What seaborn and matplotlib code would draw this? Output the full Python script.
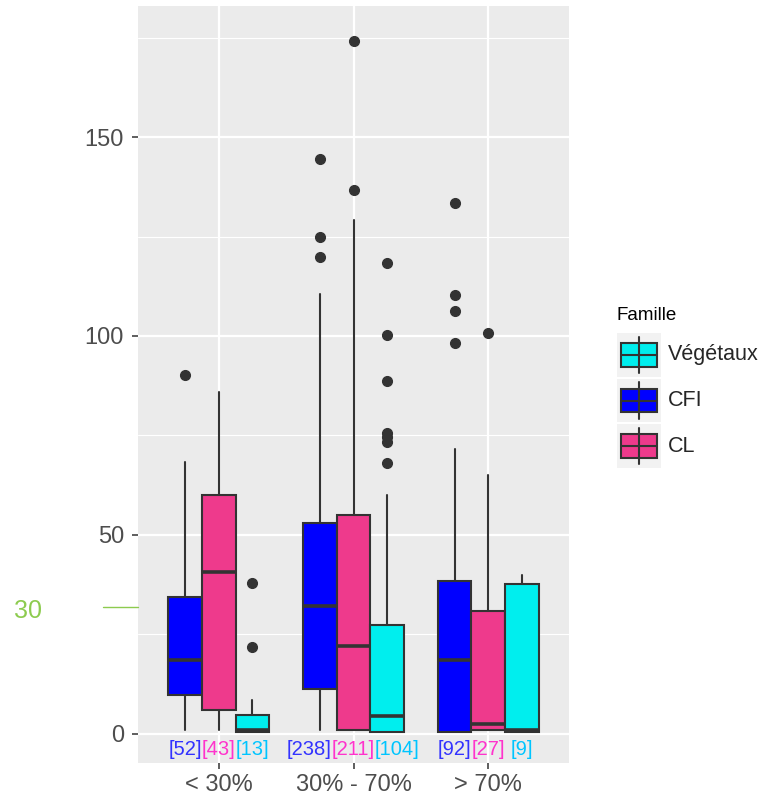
import numpy as np
import seaborn as sns
import matplotlib.pyplot as plt
from matplotlib.patches import Rectangle
from matplotlib.lines import Line2D

# ──────────────── данные ────────────────
groups = ["< 30%", "30% - 70%", "> 70%"]
familles = ["CFI", "CL", "Végétaux"]
legend_order = ["Végétaux", "CFI", "CL"]

cfi_low = [1.0, 1.0, 0.5]
cfi_q1 = [9.6, 11.1, 0.5]
cfi_med = [18.4, 32.0, 18.4]
cfi_q3 = [34.3, 52.9, 38.4]
cfi_high = [68.2, 110.5, 71.7]
cfi_out = [[90.1], [144.5, 124.9, 119.8], [133.4, 110.3, 106.2, 98.2]]
cfi_n = [52, 238, 92]

cl_low = [1.0, 1.0, 1.0]
cl_q1 = [6.0, 1.0, 1.0]
cl_med = [40.6, 22.0, 2.4]
cl_q3 = [60.0, 55.0, 30.8]
cl_high = [85.8, 129.1, 65.1]
cl_out = [[], [174.1, 136.8], [100.7]]
cl_n = [43, 211, 27]

veg_low = [0.3, 0.5, 0.5]
veg_q1 = [0.3, 0.5, 0.5]
veg_med = [1.0, 4.4, 1.0]
veg_q3 = [4.6, 27.2, 37.7]
veg_high = [8.4, 60.0, 40.0]
veg_out = [[37.9, 21.8], [118.3, 100.3, 88.6, 75.5, 74.5, 73.3, 68.0], []]
veg_n = [13, 104, 9]

fill = {"CFI": "#0000FF", "CL": "#EE3A8C", "Végétaux": "#00EEEE"}
lab_col = {"CFI": "#3333FF", "CL": "#FF33CC", "Végétaux": "#00C5FF"}

stats_src = {
    "CFI": (cfi_low, cfi_q1, cfi_med, cfi_q3, cfi_high, cfi_out, cfi_n),
    "CL": (cl_low, cl_q1, cl_med, cl_q3, cl_high, cl_out, cl_n),
    "Végétaux": (veg_low, veg_q1, veg_med, veg_q3, veg_high, veg_out, veg_n),
}

# ──────────────── стиль в духе ggplot ────────────────
sns.set_theme(style="darkgrid", rc={
    "axes.facecolor": "#EBEBEB",
    "grid.color": "white",
    "axes.edgecolor": "none",
    "figure.facecolor": "white",
})
plt.rcParams["font.family"] = ["Liberation Sans", "DejaVu Sans"]

W, H = 773, 807
fig = plt.figure(figsize=(W / 100, H / 100), dpi=100)
ax = fig.add_axes([138 / W, 1 - 763 / H, (569 - 138) / W, (763 - 6) / H])

width = 0.25
offsets = [-0.25, 0.0, 0.25]
edge = "#333333"

labels = [[] for _ in groups]   # подписи [n] по группам
for k, fam in enumerate(familles):
    lo, q1, med, q3, hi, out, n = stats_src[fam]
    bstats = []
    for g in range(len(groups)):
        bstats.append(dict(whislo=lo[g], q1=q1[g], med=med[g], q3=q3[g],
                           whishi=hi[g], fliers=out[g], label=groups[g]))
    pos = [g + offsets[k] for g in range(len(groups))]
    ax.bxp(bstats, positions=pos, widths=width, patch_artist=True,
           showcaps=False, manage_ticks=False,
           boxprops=dict(facecolor=fill[fam], edgecolor=edge, linewidth=1.5),
           medianprops=dict(color=edge, linewidth=2.6, solid_capstyle="butt"),
           whiskerprops=dict(color=edge, linewidth=1.5),
           flierprops=dict(marker="o", markerfacecolor=edge, markeredgecolor=edge,
                           markersize=7))
    for g in range(len(groups)):
        t = ax.text(pos[g], -3.9, f"[{n[g]}]", color=lab_col[fam], ha="center",
                    va="center", fontsize=14.5)
        labels[g].append(t)

ax.set_xlim(-0.6, 2.6)
ax.set_ylim(-7.4, 183)
ax.set_xticks(range(len(groups)))
ax.set_xticklabels(groups)
ax.set_yticks([0, 50, 100, 150])
ax.set_yticks([25, 75, 125, 175], minor=True)
ax.grid(True, which="major", color="white", linewidth=1.6)
ax.grid(True, which="minor", axis="y", color="white", linewidth=0.8)
ax.tick_params(axis="both", which="major", length=4, width=1.1, color="#333333",
               labelsize=17, labelcolor="#4D4D4D", pad=4, bottom=True, left=True)
ax.tick_params(axis="y", which="major", pad=6)
ax.tick_params(axis="both", which="minor", length=0)
ax.set_xlabel("")
ax.set_ylabel("")
ax.set_axisbelow(True)

# подписи не должны налезать друг на друга: если налезают, ставим их вплотную
fig.canvas.draw()
r = fig.canvas.get_renderer()
inv = ax.transData.inverted()
for g, txts in enumerate(labels):
    boxes = [t.get_window_extent(r) for t in txts]
    if any(boxes[i].x1 > boxes[i + 1].x0 for i in range(len(boxes) - 1)):
        total = sum(b.width for b in boxes)
        gx = ax.transData.transform((g, 0))[0]
        x = gx - total / 2
        for t, b in zip(txts, boxes):
            cx = x + b.width / 2
            t.set_x(inv.transform((cx, 0))[0])
            x += b.width

# ──────────────── легенда ────────────────
fig.text(617 / W, 1 - 315 / H, "Famille", ha="left", va="center", fontsize=13.5,
         color="black")
lax = fig.add_axes([617 / W, 1 - 469 / H, 44 / W, 137 / H])
lax.set_xlim(0, 1)
lax.set_ylim(3, 0)
lax.axis("off")
for i, fam in enumerate(legend_order):
    lax.add_patch(Rectangle((0, i + 0.02), 1, 0.96, facecolor="#F2F2F2",
                            edgecolor="none"))
    lax.plot([0.5, 0.5], [i + 0.1, i + 0.9], color=edge, linewidth=1.5)
    lax.add_patch(Rectangle((0.1, i + 0.24), 0.82, 0.52, facecolor=fill[fam],
                            edgecolor=edge, linewidth=1.5))
    lax.plot([0.1, 0.92], [i + 0.5, i + 0.5], color=edge, linewidth=1.5)
    lax.text(1.16, i + 0.5, fam, ha="left", va="center", fontsize=15.5)

# ──────────────── зелёная отметка «30» ────────────────
fig.text(28 / W, 1 - 611 / H, "30", color="#8DCB4F", ha="center", va="center",
         fontsize=18)
fig.add_artist(Line2D([103 / W, 138 / W], [1 - 607 / H, 1 - 607 / H],
                      color="#8DCB4F", linewidth=1.0))

fig.savefig("out.png", dpi=100)
